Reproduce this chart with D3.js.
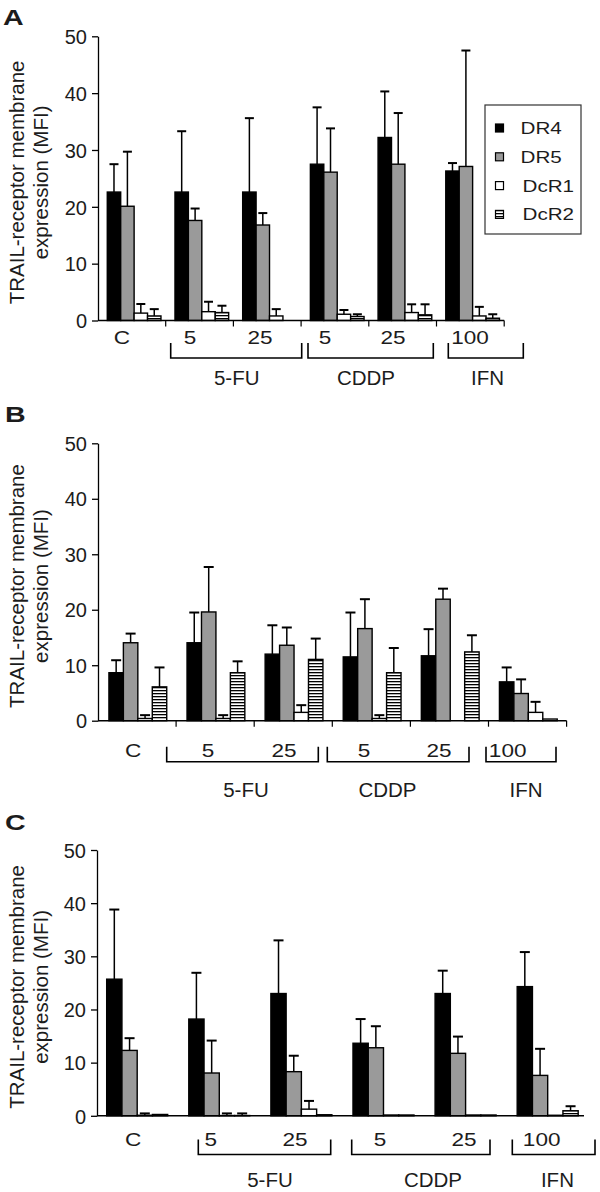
<!DOCTYPE html>
<html><head><meta charset="utf-8">
<script src="https://cdn.jsdelivr.net/npm/d3@7"></script>
<style>body{margin:0;background:#fff}svg{display:block}</style>
</head><body><svg id="c" width="600" height="1192"></svg>
<script>
// ---------- data ----------
const categories = ["C","5-FU 5","5-FU 25","CDDP 5","CDDP 25","IFN 100"];
const catLabels  = ["C","5","25","5","25","100"];
const groupNames = ["5-FU","CDDP","IFN"];
const groupFirst = [1,3,5];
const groupLast  = [2,4,5];
const series     = ["DR4","DR5","DcR1","DcR2"];
const yTicks     = [0,10,20,30,40,50];

// Panel A
const aDR4     = [22.6, 22.6, 22.6, 27.5, 32.2, 26.3];
const aDR4Err  = [4.9, 10.7, 13.0, 10.0, 8.1, 1.4];
const aDR5     = [20.1, 17.6, 16.8, 26.1, 27.5, 27.1];
const aDR5Err  = [9.6, 2.1, 2.1, 7.7, 9.0, 20.4];
const aDcR1    = [1.3, 1.55, 0.8, 1.1, 1.4, 0.8];
const aDcR1Err = [1.6, 1.75, 1.2, 0.75, 1.45, 1.6];
const aDcR2    = [0.8, 1.4, 0, 0.7, 1.0, 0.4];
const aDcR2Err = [1.2, 1.2, 0, 0.4, 1.85, 0.7];
// Panel B
const bDR4     = [8.65, 14.05, 12.0, 11.5, 11.7, 7.0];
const bDR4Err  = [2.25, 5.45, 5.2, 8.0, 4.8, 2.6];
const bDR5     = [14.05, 19.6, 13.6, 16.6, 21.9, 4.9];
const bDR5Err  = [1.65, 8.1, 3.2, 5.3, 1.9, 2.55];
const bDcR1    = [0.4, 0.4, 1.5, 0.4, 0, 1.5];
const bDcR1Err = [0.6, 0.6, 1.3, 0.6, 0, 1.9];
const bDcR2    = [6.1, 8.65, 11.05, 8.65, 12.4, 0.3];
const bDcR2Err = [3.5, 2.05, 3.75, 4.45, 3.0, 0];
// Panel C
const cDR4     = [25.7, 18.2, 23.0, 13.65, 23.0, 24.3];
const cDR4Err  = [13.1, 8.7, 10.0, 4.55, 4.3, 6.5];
const cDR5     = [12.3, 8.05, 8.3, 12.8, 11.75, 7.6];
const cDR5Err  = [2.3, 6.1, 3.0, 4.05, 3.15, 5.0];
const cDcR1    = [0.1, 0.05, 1.25, 0.15, 0.15, 0.1];
const cDcR1Err = [0.35, 0.4, 1.55, 0, 0, 0];
const cDcR2    = [0.25, 0.05, 0.2, 0.15, 0.15, 0.95];
const cDcR2Err = [0, 0.4, 0, 0, 0, 0.85];

// ---------- layout ----------
const FONT = "'Liberation Sans', Arial, Helvetica, sans-serif";
const TXT = "#1c1c1c";
const panels = [
  {letter:"A", letterX:3, letterY:25, top:36.3, bottom:320.5, left:98, bandEnd:504.2, axisEnd:504.2,
   inner:[0.137,0.93], xTicks:true, capW:9,
   vals:[aDR4,aDR5,aDcR1,aDcR2], errs:[aDR4Err,aDR5Err,aDcR1Err,aDcR2Err],
   labelY:344, labelDx:[-9.9,-9.6,-7.3,-10,-9.7,-0.4],
   brTop:343, brBot:358, brDx:[[5,0.6],[6.9,-3.2],[11.8,19.1]], groupY:385, groupDx:[0.5,-4.7,1.7], legend:true},
  {letter:"B", letterX:5, letterY:422, top:443.3, bottom:720.7, left:98, bandEnd:566.6, axisEnd:566.6,
   inner:[0.14,0.88], xTicks:true, capW:10,
   vals:[bDR4,bDR5,bDcR1,bDcR2], errs:[bDR4Err,bDR5Err,bDcR1Err,bDcR2Err],
   labelY:756.5, labelDx:[-4,-7.2,-9.3,-7.4,-10.5,-19.9],
   brTop:746.7, brBot:761.7, brDx:[[-9.4,-14],[-5,-19.5],[-2.5,-10.6]], groupY:797, groupDx:[3.5,-10.7,5], legend:false},
  {letter:"C", letterX:5, letterY:830, top:850, bottom:1115.8, left:97, bandEnd:589.6, axisEnd:584,
   inner:[0.118,0.861], xTicks:false, capW:10,
   vals:[cDR4,cDR5,cDcR1,cDcR2], errs:[cDR4Err,cDR5Err,cDcR1Err,cDcR2Err],
   labelY:1146, labelDx:[-5,-9.5,-7.3,-4.4,-2.5,-6.9],
   brTop:1139.5, brBot:1154.5, brDx:[[19.2,-12.6],[8.4,-17.5],[4.8,5.4]], groupY:1187, groupDx:[5.5,12.1,3.8], legend:false}
];

const svg = d3.select("#c");
const defs = svg.append("defs");
const pat = defs.append("pattern").attr("id","stripes").attr("patternUnits","userSpaceOnUse")
  .attr("width",6).attr("height",3);
pat.append("rect").attr("width",6).attr("height",3).attr("fill","#fff");
pat.append("rect").attr("y",0).attr("width",6).attr("height",1.3).attr("fill","#000");

const fills = {DR4:"#000", DR5:"#9a9a9a", DcR1:"#fff", DcR2:"url(#stripes)"};

panels.forEach(p => {
  const g = svg.append("g");
  const y = d3.scaleLinear().domain([0,50]).range([p.bottom, p.top]);
  const x = d3.scaleBand().domain(categories).range([p.left, p.bandEnd]).padding(0);
  const step = x.step();
  const xs = d3.scaleBand().domain(series).range([p.inner[0]*step, p.inner[1]*step]).padding(0);

  // panel letter
  g.append("text").attr("transform",`translate(${p.letterX},${p.letterY}) scale(1.3,1)`).text(p.letter)
    .attr("font-family",FONT).attr("font-weight","bold").attr("font-size",22).attr("fill",TXT);

  // y axis
  const ya = g.append("g").attr("transform",`translate(${p.left},0)`)
    .call(d3.axisLeft(y).tickValues(yTicks).tickSize(6).tickSizeOuter(0).tickPadding(5));
  ya.selectAll("text").attr("font-family",FONT).attr("font-size",20).attr("fill",TXT).attr("dy","0.36em");
  ya.selectAll("line,path").attr("stroke","#000").attr("stroke-width",1.3);

  // y title
  const cy = (p.top + p.bottom)/2 + 4;
  const t = g.append("text").attr("transform",`translate(0,${cy}) rotate(-90)`)
    .attr("text-anchor","middle").attr("font-family",FONT).attr("font-size",20.5).attr("fill",TXT);
  t.append("tspan").attr("x",0).attr("y",23.5).text("TRAIL-receptor membrane");
  t.append("tspan").attr("x",0).attr("y",47.5).text("expression (MFI)");

  // bars
  series.forEach((s,si) => {
    const vals = p.vals[si], errs = p.errs[si];
    const bw = xs.bandwidth();
    const bg = g.append("g");
    bg.selectAll("rect").data(categories).join("rect")
      .attr("x",(c)=>x(c)+xs(s))
      .attr("y",(c,i)=>y(vals[i]))
      .attr("width",bw)
      .attr("height",(c,i)=>Math.max(0,y(0)-y(vals[i])))
      .attr("fill",fills[s]).attr("stroke","#000").attr("stroke-width",1.4);
    categories.forEach((c,i) => {
      if (errs[i] <= 0) return;
      const cx = x(c)+xs(s)+bw/2;
      bg.append("line").attr("x1",cx).attr("x2",cx).attr("y1",y(vals[i])).attr("y2",y(vals[i]+errs[i]))
        .attr("stroke","#000").attr("stroke-width",1.5);
      bg.append("line").attr("x1",cx-p.capW/2).attr("x2",cx+p.capW/2)
        .attr("y1",y(vals[i]+errs[i])).attr("y2",y(vals[i]+errs[i]))
        .attr("stroke","#000").attr("stroke-width",2);
    });
  });

  // x axis line & ticks
  g.append("line").attr("x1",p.left).attr("x2",p.axisEnd).attr("y1",y(0)).attr("y2",y(0))
    .attr("stroke","#000").attr("stroke-width",1.5);
  if (p.xTicks) {
    g.selectAll(".xt").data(categories).join("line")
      .attr("x1",c=>x(c)+step).attr("x2",c=>x(c)+step)
      .attr("y1",y(0)).attr("y2",y(0)+6).attr("stroke","#000").attr("stroke-width",1.2);
  }

  // category labels (slightly wide lettering as in the original)
  g.selectAll(".cl").data(categories).join("text")
    .attr("transform",(c,i)=>`translate(${x(c)+step/2+p.labelDx[i]},${p.labelY}) scale(1.22,1)`)
    .attr("text-anchor","middle").attr("font-family",FONT).attr("font-size",18.5).attr("fill",TXT)
    .text((c,i)=>catLabels[i]);

  // brackets and group labels
  groupNames.forEach((gn,gi) => {
    const xl = x(categories[groupFirst[gi]]) + p.brDx[gi][0];
    const xr = x(categories[groupLast[gi]]) + step + p.brDx[gi][1];
    g.append("path").attr("d",`M${xl},${p.brTop}V${p.brBot}H${xr}V${p.brTop}`)
      .attr("fill","none").attr("stroke","#000").attr("stroke-width",1.6);
    g.append("text").attr("x",(xl+xr)/2+p.groupDx[gi]).attr("y",p.groupY)
      .attr("text-anchor","middle").attr("font-family",FONT).attr("font-size",20.5).attr("fill",TXT)
      .text(gn);
  });

  // legend
  if (p.legend) {
    const lg = g.append("g");
    lg.append("rect").attr("x",485).attr("y",105).attr("width",96).attr("height",129)
      .attr("fill","#fff").attr("stroke","#333").attr("stroke-width",1.2);
    series.forEach((s,si) => {
      const cyL = 128 + si*28.8;
      lg.append("rect").attr("x",495.5).attr("y",cyL-4).attr("width",8).attr("height",8)
        .attr("fill",fills[s]).attr("stroke","#000").attr("stroke-width",1.2);
      lg.append("text").attr("transform",`translate(${520.5 + (si>1?2:0)},${cyL+6}) scale(1.25,1)`).text(s)
        .attr("font-family",FONT).attr("font-size",16.5).attr("fill",TXT);
    });
  }
});
</script>
</body></html>
